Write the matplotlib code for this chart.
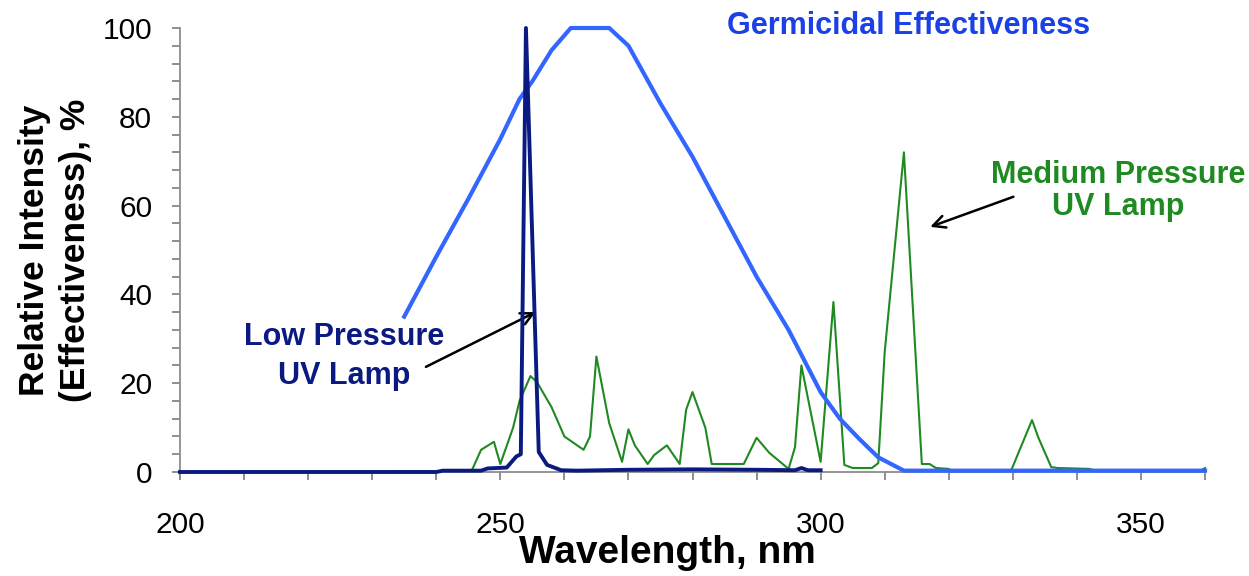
import matplotlib
matplotlib.use("Agg")
import matplotlib.pyplot as plt
from matplotlib.ticker import MultipleLocator

plt.rcParams['font.family'] = ['Liberation Sans', 'DejaVu Sans']

# germicidal effectiveness curve
germ_wl = [235, 240, 245, 250, 253, 255, 258, 261, 264, 267, 270, 275, 280, 285,
           290, 295, 300, 303, 306, 309, 313, 360]
germ_val = [35, 48.5, 61.5, 75, 84, 88, 95, 100, 100, 100, 96, 83, 71, 57.5,
            44, 32, 18, 12, 7.5, 3.3, 0.3, 0.3]

# low pressure lamp
low_wl = [200, 240, 241, 247, 248, 251, 252.5, 253.2, 254, 256, 257.3, 259.5,
          262, 270, 280, 290, 296, 297, 298, 300]
low_val = [0, 0, 0.3, 0.3, 0.8, 1.0, 3.5, 4, 100, 4.5, 1.6, 0.4,
           0.3, 0.5, 0.6, 0.5, 0.4, 0.9, 0.4, 0.4]

# medium pressure lamp
med_wl = [200, 245.5, 247, 249, 250, 252, 253, 254.7, 255.7, 258, 260, 263, 264,
          265, 267, 269, 270, 271, 273, 274, 276, 278, 279, 280, 282, 283, 288,
          290, 292, 295, 296, 297, 300, 302, 303.7, 305, 308, 309, 310, 313,
          315.8, 317, 318, 320, 320.5, 329.7, 333, 334, 336, 337, 342, 343, 359, 360]
med_val = [0, 0.2, 5, 6.8, 1.8, 10, 16, 21.6, 20.3, 14.6, 8, 5, 8,
           26, 11, 2.3, 9.6, 6, 1.8, 3.8, 6, 1.8, 14, 18, 10, 1.8, 1.8,
           7.7, 4.3, 0.7, 5.6, 24, 2.3, 38.3, 1.6, 0.9, 0.9, 2, 27, 72,
           1.8, 1.8, 0.9, 0.7, 0, 0.2, 11.7, 7.7, 1.1, 0.9, 0.7, 0.2, 0, 0.9]

fig = plt.figure(figsize=(12.49, 5.76), dpi=100)
ax = fig.add_axes([180 / 1249, 104 / 576, 1025 / 1249, 444 / 576])

ax.plot(med_wl, med_val, color='#1f8a22', lw=1.5, clip_on=False, zorder=2)
ax.plot(germ_wl, germ_val, color='#3366ff', lw=3.0, clip_on=False, zorder=3)
ax.plot(low_wl, low_val, color='#0a1a80', lw=2.8, clip_on=False, zorder=4)

ax.set_xlim(200, 360)
ax.set_ylim(0, 100)
ax.xaxis.set_major_locator(MultipleLocator(50))
ax.xaxis.set_minor_locator(MultipleLocator(10))
ax.yaxis.set_major_locator(MultipleLocator(20))
ax.yaxis.set_minor_locator(MultipleLocator(4))

for s in ['top', 'right']:
    ax.spines[s].set_visible(False)
for s in ['left', 'bottom']:
    ax.spines[s].set_color('#8c8c8c')
    ax.spines[s].set_linewidth(1.3)

ax.tick_params(axis='both', which='both', direction='out', length=6,
               width=1.1, color='#707070')
ax.tick_params(axis='x', which='major', labelsize=21.5, pad=22)
ax.tick_params(axis='y', which='major', labelsize=21.5, pad=14)

fig.text(667 / 1249, 1 - 553 / 576, 'Wavelength, nm', fontsize=28,
         fontweight='bold', ha='center', va='center')
fig.text(55 / 1249, 1 - 250 / 576, 'Relative Intensity\n(Effectiveness), %',
         fontsize=25.5, fontweight='bold', rotation=90, ha='center',
         va='center', multialignment='center', linespacing=1.3)

ax.text(313.8, 100.5, 'Germicidal Effectiveness', fontsize=22, fontweight='bold',
        color='#1a40e6', ha='center', va='center')
ax.text(346.4, 63.3, 'Medium Pressure\nUV Lamp', fontsize=22, fontweight='bold',
        color='#1f8a22', ha='center', va='center', linespacing=1.05)
ax.text(225.6, 26, 'Low Pressure\nUV Lamp', fontsize=22, fontweight='bold',
        color='#0a1a80', ha='center', va='center', linespacing=1.4)

ax.annotate('', xy=(255.9, 36.3), xytext=(238, 23.4),
            arrowprops=dict(arrowstyle='->', color='black', lw=1.8,
                            mutation_scale=22))
ax.annotate('', xy=(316.7, 55), xytext=(330.5, 62.2),
            arrowprops=dict(arrowstyle='->', color='black', lw=1.8,
                            mutation_scale=22))

fig.savefig('out.png', dpi=100)
